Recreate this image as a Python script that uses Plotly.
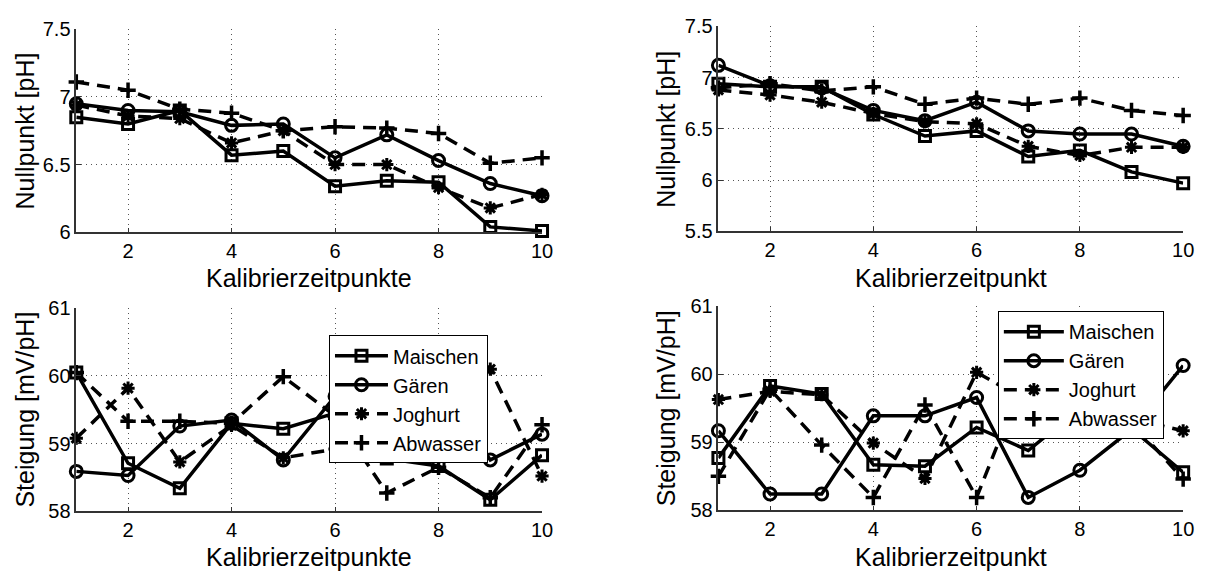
import plotly.graph_objects as go

# ---------------- data ----------------
kalib = [1, 2, 3, 4, 5, 6, 7, 8, 9, 10]
series_names = ["Maischen", "Gären", "Joghurt", "Abwasser"]

# top-left: Nullpunkt [pH] (Kalibrierzeitpunkte)
null_l_maischen = [6.85, 6.80, 6.90, 6.57, 6.60, 6.34, 6.38, 6.37, 6.04, 6.01]
null_l_gaeren = [6.95, 6.90, 6.89, 6.79, 6.80, 6.55, 6.72, 6.53, 6.36, 6.27]
null_l_joghurt = [6.94, 6.86, 6.84, 6.66, 6.75, 6.50, 6.50, 6.33, 6.18, 6.28]
null_l_abwasser = [7.11, 7.05, 6.91, 6.88, 6.75, 6.78, 6.77, 6.73, 6.51, 6.55]

# top-right: Nullpunkt [pH] (Kalibrierzeitpunkt)
null_r_maischen = [6.94, 6.91, 6.91, 6.64, 6.43, 6.48, 6.23, 6.29, 6.08, 5.97]
null_r_gaeren = [7.12, 6.92, 6.90, 6.68, 6.58, 6.76, 6.48, 6.45, 6.45, 6.33]
null_r_joghurt = [6.88, 6.83, 6.76, 6.65, 6.57, 6.55, 6.33, 6.24, 6.32, 6.32]
null_r_abwasser = [6.90, 6.94, 6.87, 6.91, 6.74, 6.80, 6.74, 6.80, 6.68, 6.63]

# bottom-left: Steigung [mV/pH]
steig_l_maischen = [60.05, 58.71, 58.34, 59.30, 59.22, 59.45, 58.78, 58.67, 58.17, 58.83]
steig_l_gaeren = [58.59, 58.53, 59.26, 59.35, 58.76, 59.70, 59.60, 59.90, 58.76, 59.14]
steig_l_joghurt = [59.08, 59.82, 58.73, 59.27, 58.79, 58.92, 59.50, 59.30, 60.10, 58.52]
steig_l_abwasser = [60.05, 59.33, 59.33, 59.30, 59.99, 59.41, 58.27, 58.65, 58.20, 59.28]

# bottom-right: Steigung [mV/pH]
steig_r_maischen = [58.77, 59.83, 59.71, 58.67, 58.65, 59.22, 58.88, 59.50, 59.20, 58.56]
steig_r_gaeren = [59.17, 58.24, 58.24, 59.39, 59.39, 59.66, 58.19, 58.59, 59.19, 60.13]
steig_r_joghurt = [59.63, 59.75, 59.70, 58.99, 58.47, 60.03, 59.60, 59.21, 59.35, 59.17]
steig_r_abwasser = [58.50, 59.78, 58.96, 58.19, 59.55, 58.19, 60.10, 59.40, 59.30, 58.46]

x_ticks = [2, 4, 6, 8, 10]
y_ticks_tl = [6, 6.5, 7, 7.5]
y_ticks_tr = [5.5, 6, 6.5, 7, 7.5]
y_ticks_b = [58, 59, 60, 61]

x_title_left = "Kalibrierzeitpunkte"
x_title_right = "Kalibrierzeitpunkt"
y_title_top = "Nullpunkt [pH]"
y_title_bottom = "Steigung [mV/pH]"

# ---------------- styling ----------------
FONT = "Liberation Sans, Arial, Helvetica, sans-serif"
styles = {
    "Maischen": dict(dash="solid", symbol="square-open", size=11, mlw=3),
    "Gären": dict(dash="solid", symbol="circle-open", size=12, mlw=3),
    "Joghurt": dict(dash="13px,8px", symbol="asterisk-open", size=11, mlw=3),
    "Abwasser": dict(dash="13px,8px", symbol="cross-thin-open", size=11, mlw=3.5),
}

fig = go.Figure()

panels = [
    ("x", "y", [null_l_maischen, null_l_gaeren, null_l_joghurt, null_l_abwasser], None),
    ("x2", "y2", [null_r_maischen, null_r_gaeren, null_r_joghurt, null_r_abwasser], None),
    ("x3", "y3", [steig_l_maischen, steig_l_gaeren, steig_l_joghurt, steig_l_abwasser], "legend"),
    ("x4", "y4", [steig_r_maischen, steig_r_gaeren, steig_r_joghurt, steig_r_abwasser], "legend2"),
]

for xa, ya, vals, leg in panels:
    for name, v in zip(series_names, vals):
        st = styles[name]
        fig.add_trace(go.Scatter(
            x=kalib, y=v, name=name, xaxis=xa, yaxis=ya,
            mode="lines+markers",
            line=dict(color="black", width=3.5, dash=st["dash"]),
            marker=dict(symbol=st["symbol"], size=st["size"], color="black",
                        line=dict(color="black", width=st["mlw"])),
            cliponaxis=False,
            showlegend=leg is not None,
            legend=leg if leg is not None else "legend",
        ))

axis_common = dict(
    showline=True, linecolor="#333333", linewidth=1.5,
    ticks="inside", ticklen=5, tickwidth=1, tickcolor="#333333",
    showgrid=True, gridcolor="#555555", gridwidth=1, griddash="1px,4px",
    zeroline=False,
    tickfont=dict(family=FONT, size=20, color="black"),
    mirror=False,
)

# pixel geometry (figure 1211 x 581)
W, H = 1211, 581
def xd(a, b):
    return [a / W, b / W]
def yd(top, bottom):
    return [1 - bottom / H, 1 - top / H]

L_X = xd(77, 547)
R_X = xd(725, 1194)

fig.update_layout(
    width=W, height=H,
    margin=dict(l=0, r=0, t=0, b=0),
    paper_bgcolor="white", plot_bgcolor="white",
    font=dict(family=FONT, color="black"),
    xaxis=dict(domain=L_X, range=[1, 10], tickvals=x_ticks, anchor="y", **axis_common),
    yaxis=dict(domain=yd(19, 230), range=[6, 7.5], tickvals=y_ticks_tl,
               ticktext=[f"{t:g}" for t in y_ticks_tl], anchor="x", **axis_common),
    xaxis2=dict(domain=R_X, range=[1, 10], tickvals=x_ticks, anchor="y2", **axis_common),
    yaxis2=dict(domain=yd(16, 229), range=[5.5, 7.5], tickvals=y_ticks_tr,
                ticktext=[f"{t:g}" for t in y_ticks_tr], anchor="x2", **axis_common),
    xaxis3=dict(domain=L_X, range=[1, 10], tickvals=x_ticks, anchor="y3", **axis_common),
    yaxis3=dict(domain=yd(309, 520), range=[58, 61], tickvals=y_ticks_b, anchor="x3", **axis_common),
    xaxis4=dict(domain=R_X, range=[1, 10], tickvals=x_ticks, anchor="y4", **axis_common),
    yaxis4=dict(domain=yd(307, 519), range=[58, 61], tickvals=y_ticks_b, anchor="x4", **axis_common),
    legend=dict(x=332 / W, y=1 - 337 / H, xanchor="left", yanchor="top",
                bgcolor="white", bordercolor="black", borderwidth=1,
                font=dict(family=FONT, size=20, color="black"),
                itemwidth=53, tracegroupgap=0),
    legend2=dict(x=1007 / W, y=1 - 312 / H, xanchor="left", yanchor="top",
                 bgcolor="white", bordercolor="black", borderwidth=1,
                 font=dict(family=FONT, size=20, color="black"),
                 itemwidth=60, tracegroupgap=0),
)

ann_font = dict(family=FONT, size=25, color="black")
annotations = [
    dict(text=x_title_left, x=312 / W, y=1 - 277 / H),
    dict(text=x_title_right, x=959.5 / W, y=1 - 277 / H),
    dict(text=x_title_left, x=312 / W, y=1 - 567 / H),
    dict(text=x_title_right, x=959.5 / W, y=1 - 567 / H),
    dict(text=y_title_top, x=25 / W, y=1 - 124.5 / H, textangle=-90),
    dict(text=y_title_top, x=672 / W, y=1 - 122.5 / H, textangle=-90),
    dict(text=y_title_bottom, x=25 / W, y=1 - 414.5 / H, textangle=-90),
    dict(text=y_title_bottom, x=672 / W, y=1 - 413 / H, textangle=-90),
]
for a in annotations:
    fig.add_annotation(xref="paper", yref="paper", xanchor="center", yanchor="middle",
                       showarrow=False, font=ann_font, **a)

fig.write_html("out.html")
